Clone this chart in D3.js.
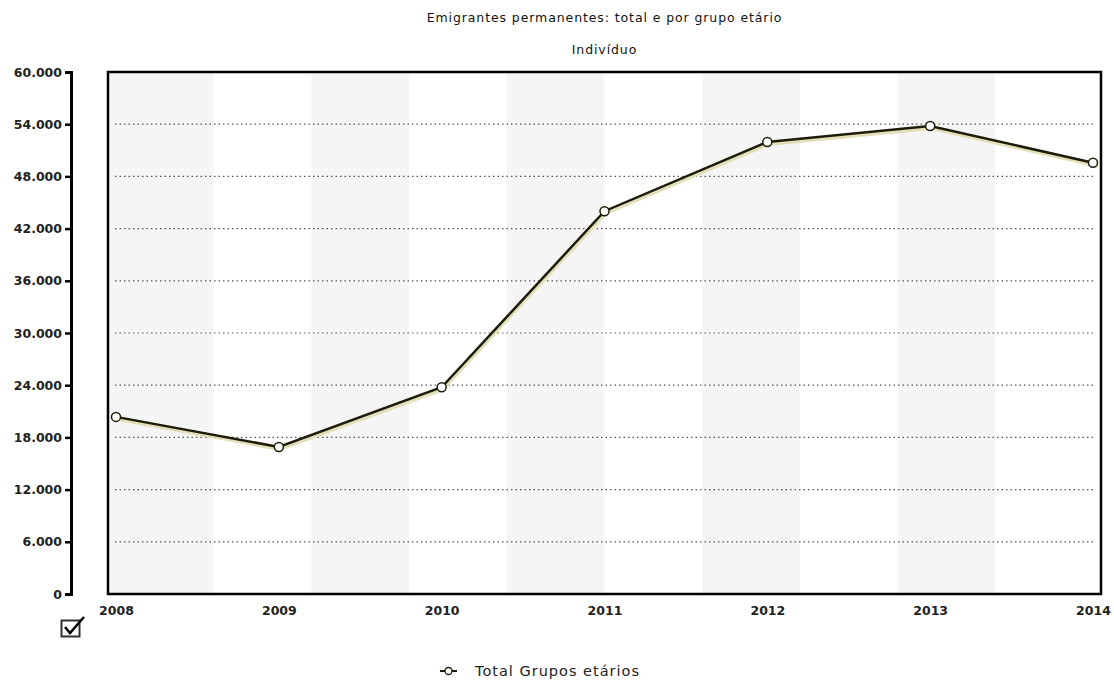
<!DOCTYPE html>
<html><head><meta charset="utf-8">
<script src="https://cdn.jsdelivr.net/npm/d3@7"></script>
<style>
html,body{margin:0;padding:0;background:#fff;}
svg{display:block;font-family:"DejaVu Sans",Verdana,sans-serif;}
</style></head>
<body>
<svg id="chart" width="1114" height="680"></svg>
<script>
const title = "Emigrantes permanentes: total e por grupo etário";
const subtitle = "Indivíduo";
const years = [2008, 2009, 2010, 2011, 2012, 2013, 2014];
const totals = [20357, 16899, 23760, 43998, 51958, 53786, 49572];
const yTicks = [0, 6000, 12000, 18000, 24000, 30000, 36000, 42000, 48000, 54000, 60000];
const seriesName = "Total Grupos etários";

const svg = d3.select("#chart");
const frame = {left:108, right:1101, top:72, bottom:594};
const x = d3.scaleLinear().domain([2008, 2014]).range([116, 1093]);
const y = d3.scaleLinear().domain([0, 60000]).range([frame.bottom, frame.top]);
const fmt = v => d3.format(",")(v).replace(/,/g, ".");
const cx = (frame.left + frame.right) / 2;

// alternating bands (10 equal stripes across the x range)
const nb = 10;
const bandW = (x.range()[1] - x.range()[0]) / nb;
const bands = d3.range(0, nb, 2);
svg.append("g").selectAll("rect").data(bands).join("rect")
  .attr("x", i => i === 0 ? frame.left : x.range()[0] + i * bandW)
  .attr("width", i => i === 0 ? x.range()[0] + bandW - frame.left : bandW)
  .attr("y", frame.top).attr("height", frame.bottom - frame.top)
  .attr("fill", "#f5f5f5");

// gridlines
svg.append("g").selectAll("line").data(yTicks.filter(t => t > 0 && t < 60000)).join("line")
  .attr("x1", 115).attr("x2", 1095)
  .attr("y1", d => y(d)).attr("y2", d => y(d))
  .attr("stroke", "#555").attr("stroke-width", 1.2).attr("stroke-dasharray", "1.5,3");

// frame
svg.append("rect").attr("x", frame.left).attr("y", frame.top)
  .attr("width", frame.right - frame.left).attr("height", frame.bottom - frame.top)
  .attr("fill", "none").attr("stroke", "#000").attr("stroke-width", 2.5);

// y axis
const yAxis = d3.axisLeft(y).tickValues(yTicks).tickFormat(fmt).tickSize(6).tickPadding(3);
const ya = svg.append("g").attr("transform", "translate(71,0)").call(yAxis);
ya.attr("font-size", 12.5).attr("font-family", "DejaVu Sans");
ya.select(".domain").attr("stroke", "#000").attr("stroke-width", 3);
ya.selectAll(".tick line").attr("stroke", "#000").attr("stroke-width", 2.5);
ya.selectAll(".tick text").attr("font-size", 12.5).attr("font-weight", "bold")
  .attr("fill", "#222");

// x axis labels
const xAxis = d3.axisBottom(x).tickValues(years).tickFormat(d3.format("d")).tickSize(0).tickPadding(12);
const xa = svg.append("g").attr("transform", `translate(0,${frame.bottom})`).call(xAxis);
xa.attr("font-size", 12.5).attr("font-family", "DejaVu Sans");
xa.select(".domain").remove();
xa.selectAll(".tick text").attr("font-size", 12.5).attr("font-weight", "bold")
  .attr("fill", "#222");

// line with shadow
const data = years.map((yr, i) => ({yr, v: totals[i]}));
const line = d3.line().x(d => x(d.yr)).y(d => y(d.v));
svg.append("path").datum(data).attr("d", line).attr("fill", "none")
  .attr("stroke", "#e2e0b8").attr("stroke-width", 3).attr("transform", "translate(1,2.5)");
svg.append("path").datum(data).attr("d", line).attr("fill", "none")
  .attr("stroke", "#1c1c08").attr("stroke-width", 2.5);
svg.append("g").selectAll("circle").data(data).join("circle")
  .attr("cx", d => x(d.yr)).attr("cy", d => y(d.v)).attr("r", 4.5)
  .attr("fill", "#fff").attr("stroke", "#1c1c08").attr("stroke-width", 1.5);

// titles
svg.append("text").attr("x", cx).attr("y", 22).attr("text-anchor", "middle")
  .attr("font-size", 12.5).attr("letter-spacing", 0.9).attr("fill", "#111").text(title);
svg.append("text").attr("x", cx).attr("y", 54).attr("text-anchor", "middle")
  .attr("font-size", 12.5).attr("letter-spacing", 0.9).attr("fill", "#111").text(subtitle);

// checkbox icon
const cb = svg.append("g");
cb.append("rect").attr("x", 61.5).attr("y", 620.5).attr("width", 18).attr("height", 16)
  .attr("fill", "#fff").attr("stroke", "#333").attr("stroke-width", 2);
cb.append("path").attr("d", "M65,627 L70,633 L84,617").attr("fill", "none")
  .attr("stroke", "#000").attr("stroke-width", 2.5);

// legend
const lg = svg.append("g").attr("transform", "translate(0,671)");
lg.append("line").attr("x1", 440).attr("x2", 457).attr("y1", 0).attr("y2", 0)
  .attr("stroke", "#1c1c08").attr("stroke-width", 2);
lg.append("circle").attr("cx", 448.5).attr("cy", 0).attr("r", 3.5)
  .attr("fill", "#fff").attr("stroke", "#1c1c08").attr("stroke-width", 1.3);
lg.append("text").attr("x", 475).attr("y", 5).attr("font-size", 14.5).attr("letter-spacing", 1)
  .attr("fill", "#222").text(seriesName);
</script>
</body></html>
